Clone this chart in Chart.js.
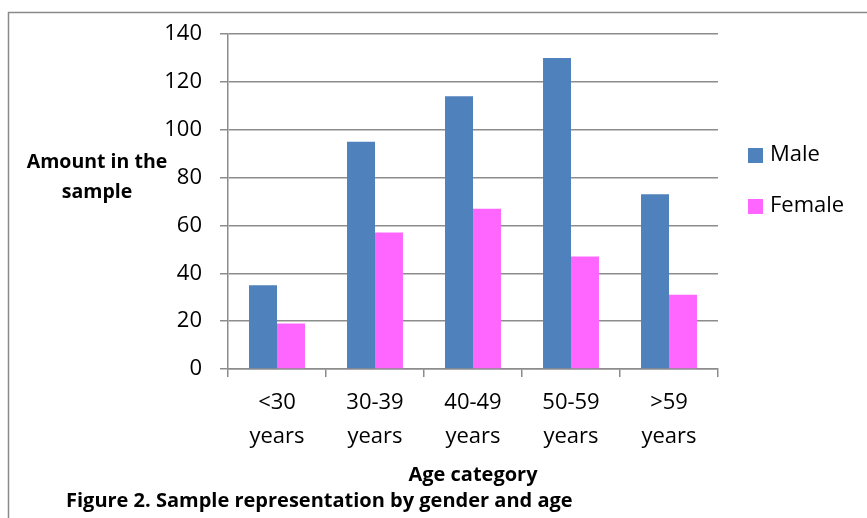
<!DOCTYPE html>
<html>
<head>
<meta charset="utf-8">
<script src="https://cdn.jsdelivr.net/npm/chart.js@4.4.1/dist/chart.umd.min.js"></script>
<style>
  html, body { margin: 0; padding: 0; background: #fff; }
  #wrap { width: 867px; height: 518px; }
</style>
</head>
<body>
<div id="wrap"><canvas id="BarChart" width="867" height="518"></canvas></div>
<script>
// Chart data
const ageCategories = [['<30', 'years'], ['30-39', 'years'], ['40-49', 'years'], ['50-59', 'years'], ['>59', 'years']];
const maleValues = [35, 95, 114, 130, 73];
const femaleValues = [19, 57, 67, 47, 31];
const yTicks = [0, 20, 40, 60, 80, 100, 120, 140];

const FONT = '"Open Sans", "Noto Sans", sans-serif';
const GRID = '#8c8c8c';

// Frame, horizontal y title, legend and caption
const extrasPlugin = {
    id: 'extras',
    beforeDraw(chart) {
        const ctx = chart.ctx;
        ctx.save();
        ctx.fillStyle = '#fff';
        ctx.fillRect(0, 0, chart.width, chart.height);
        ctx.strokeStyle = '#8a8a8a';
        ctx.lineWidth = 1.5;
        ctx.beginPath();
        ctx.moveTo(8.5, chart.height);
        ctx.lineTo(8.5, 12.5);
        ctx.lineTo(chart.width, 12.5);
        ctx.stroke();
        ctx.restore();
    },
    afterDraw(chart) {
        const ctx = chart.ctx;
        ctx.save();
        ctx.fillStyle = '#000';
        ctx.textBaseline = 'middle';

        // y axis title, written horizontally
        ctx.font = 'bold 19.5px ' + FONT;
        ctx.textAlign = 'center';
        ctx.fillText('Amount in the', 97, 162);
        ctx.fillText('sample', 97, 192);

        // caption
        ctx.font = 'bold 20px ' + FONT;
        ctx.textAlign = 'left';
        ctx.fillText('Figure 2. Sample representation by gender and age', 66, 501);

        // legend
        ctx.font = '22px ' + FONT;
        chart.data.datasets.forEach((ds, i) => {
            const y = 155 + i * 51;
            ctx.fillStyle = ds.backgroundColor;
            ctx.fillRect(748, y - 7, 15, 15);
            ctx.fillStyle = '#000';
            ctx.fillText(ds.label, 770, y);
        });
        ctx.restore();
    }
};

const barData = {
    labels: ageCategories,
    datasets: [
        { label: 'Male', data: maleValues, backgroundColor: '#4F81BD' },
        { label: 'Female', data: femaleValues, backgroundColor: '#FF66FF' }
    ]
};

const barConfig = {
    type: 'bar',
    data: barData,
    options: {
        responsive: false,
        animation: false,
        layout: { padding: { top: 34, right: 149, left: 0, bottom: 0 } },
        datasets: { bar: { categoryPercentage: 0.571, barPercentage: 1.0 } },
        plugins: {
            legend: { display: false },
            tooltip: { enabled: false }
        },
        scales: {
            x: {
                afterFit: scale => { scale.height = 149; },
                grid: { drawOnChartArea: false, drawTicks: true, tickLength: 8, color: GRID, lineWidth: 1.5 },
                border: { color: GRID, width: 1.5 },
                ticks: { color: '#000', font: { family: FONT, size: 22, lineHeight: 1.55 }, padding: 9, maxRotation: 0 },
                title: {
                    display: true,
                    text: 'Age category',
                    color: '#000',
                    font: { family: FONT, size: 20, weight: 'bold' },
                    padding: { top: 0, bottom: 31 }
                }
            },
            y: {
                min: 0,
                max: 140,
                afterFit: scale => { scale.width = 228; },
                afterBuildTicks: scale => { scale.ticks = yTicks.map(v => ({ value: v })); },
                grid: { color: GRID, lineWidth: 1.5, tickLength: 8 },
                border: { color: GRID, width: 1.5 },
                ticks: { color: '#000', font: { family: FONT, size: 22 }, padding: 18 }
            }
        }
    },
    plugins: [extrasPlugin]
};

const barCtx = document.getElementById('BarChart').getContext('2d');
new Chart(barCtx, barConfig);
</script>
</body>
</html>
